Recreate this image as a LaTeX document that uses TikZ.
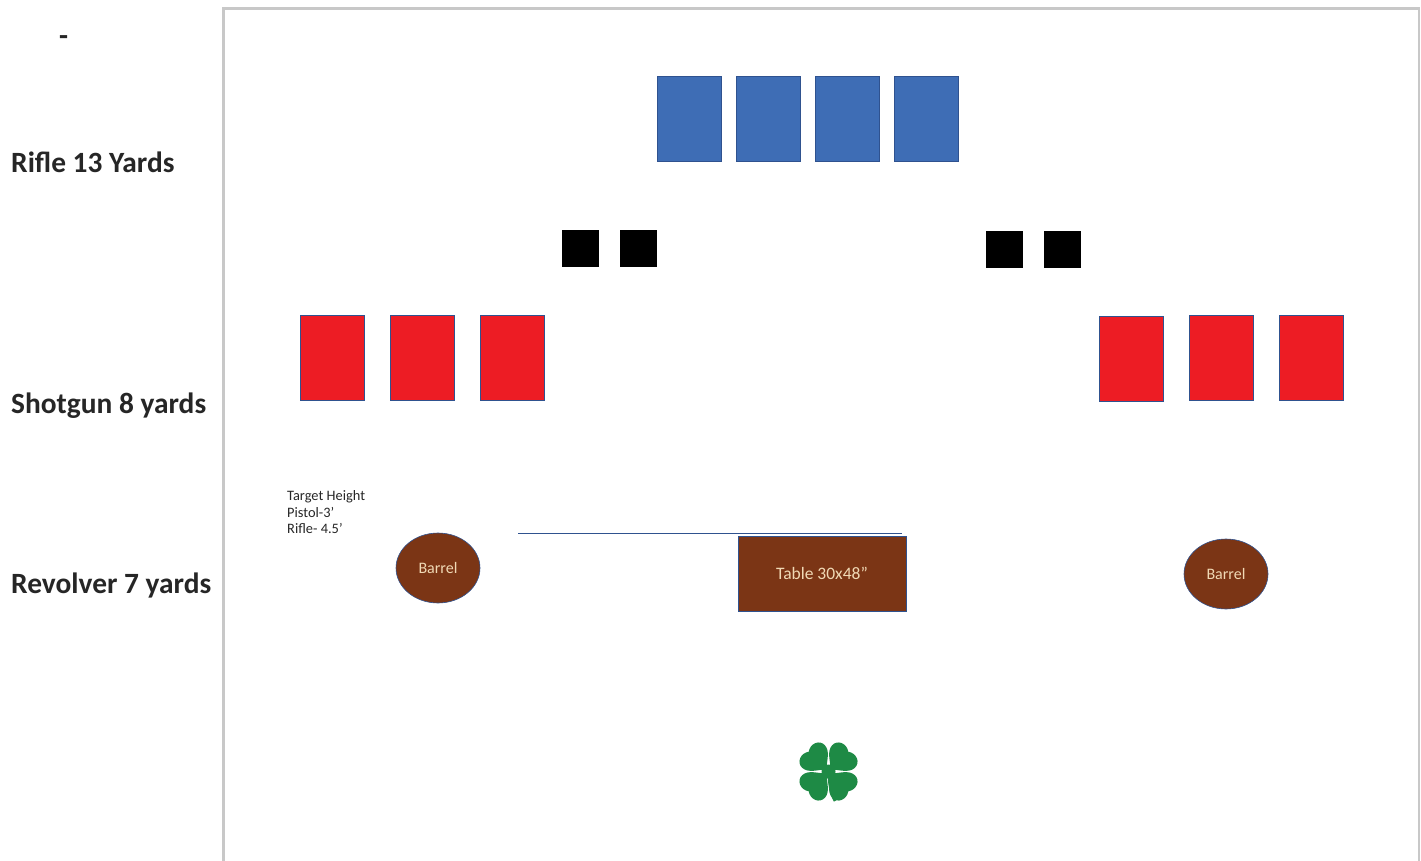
\documentclass[tikz,border=0pt]{standalone}
\usepackage{fontspec}
\setmainfont{Carlito}
\usepackage{tikz}
\usetikzlibrary{positioning,shapes.geometric}
\definecolor{frameline}{HTML}{C8C8C8}
\definecolor{edgeblue}{HTML}{2F528F}
\definecolor{targetblue}{HTML}{3E6DB5}
\definecolor{targetred}{HTML}{ED1C24}
\definecolor{propbrown}{HTML}{7B3515}
\definecolor{proptext}{HTML}{F0D9B5}
\definecolor{clovergreen}{HTML}{1E8A45}
\tikzset{
  x=1pt,y=-1pt,
  node distance=15.2pt,
  rangelbl/.style={font=\fontsize{29.4}{29.4}\selectfont\bfseries,text=black!85,anchor=west,inner sep=0pt},
  bluetgt/.style={rectangle,draw=edgeblue,fill=targetblue,line width=0.5pt,minimum width=64pt,minimum height=85.5pt,outer sep=0pt},
  redtgt/.style={rectangle,draw=edgeblue,fill=targetred,line width=0.5pt,minimum width=64pt,minimum height=85pt,outer sep=0pt},
  blacktgt/.style={rectangle,fill=black,minimum size=37pt,outer sep=0pt},
  barrel/.style={ellipse,draw=edgeblue,fill=propbrown,line width=0.6pt,minimum width=84pt,minimum height=70pt,inner sep=0pt,text=proptext,font=\fontsize{16}{16}\selectfont,outer sep=0pt},
  tablebox/.style={rectangle,draw=edgeblue,fill=propbrown,line width=0.5pt,minimum width=167.5pt,minimum height=75pt,text=proptext,font=\fontsize{17.5}{17.5}\selectfont,outer sep=0pt},
  notelbl/.style={font=\fontsize{14.4}{16.5}\selectfont,align=left,anchor=north west,inner sep=0pt,text=black!85},
}
\begin{document}
\begin{tikzpicture}
  \useasboundingbox (0,0) rectangle (1421,861);
  % frame
  \coordinate (fbl) at (223.5,861);
  \coordinate (ftl) at (223.5,8.5);
  \coordinate (ftr) at (1419,8.5);
  \coordinate (fbr) at (1419,861);
  \draw[frameline,line width=2.5pt] (fbl)--(ftl)--(ftr)--(fbr);
  % labels
  \node[rangelbl] (dash) at (59,41) {-};
  \node[rangelbl] (rifle) at (11,162.5) {Rifle 13 Yards};
  \node[rangelbl] (shotgun) at (11,406) {Shotgun 8 yards};
  \node[rangelbl] (revolver) at (11,585) {Revolver 7 yards};
  % rifle row
  \node[bluetgt] (b1) at (689,119) {};
  \node[bluetgt,right=of b1] (b2) {};
  \node[bluetgt,right=of b2] (b3) {};
  \node[bluetgt,right=of b3] (b4) {};
  % small squares
  \node[blacktgt] (k1) at (580.5,248.5) {};
  \node[blacktgt,right=21pt of k1] (k2) {};
  \node[blacktgt] (k3) at (1004.5,249.5) {};
  \node[blacktgt,right=21pt of k3] (k4) {};
  % shotgun row
  \node[redtgt] (r1) at (332,357.5) {};
  \node[redtgt,right=26pt of r1] (r2) {};
  \node[redtgt,right=26.6pt of r2] (r3) {};
  \node[redtgt] (r4) at (1131,358.5) {};
  \node[redtgt] (r5) at (1221,357.5) {};
  \node[redtgt,right=26pt of r5] (r6) {};
  % revolver row
  \node[notelbl] (note) at (287,490.5) {Target Height\\Pistol-3’\\Rifle- 4.5’};
  \node[barrel] (barrelL) at (438,568) {Barrel};
  \node[barrel] (barrelR) at (1226,574) {Barrel};
  \node[tablebox] (table) at (822,573.5) {Table 30x48”};
  \coordinate (linel) at (518,533.5);
  \coordinate (liner) at (902,533.5);
  \draw[edgeblue,line width=0.8pt] (linel)--(liner);
  % clover
  \coordinate (clover) at (828.5,771.5);
  \fill[clovergreen] (clover) circle (7pt);
  \draw[clovergreen,line width=2.5pt] (clover) .. controls (829,785) and (831,794) .. (835,801);
  \foreach \ang in {45,135,225,315}
    \fill[clovergreen,shift={(clover)},rotate=\ang]
      (3,0) .. controls (9,-6.5) and (13,-15.5) .. (21,-16)
      .. controls (29,-16.5) and (33,-7) .. (28,0)
      .. controls (33,7) and (29,16.5) .. (21,16)
      .. controls (13,15.5) and (9,6.5) .. (3,0) -- cycle;
\end{tikzpicture}
\end{document}
